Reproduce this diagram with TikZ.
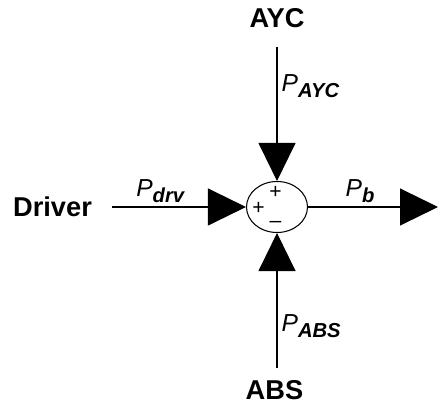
\documentclass[tikz,border=0pt]{standalone}
\usepackage{fontspec}
\setmainfont{Liberation Sans}
\usetikzlibrary{arrows.meta,shapes.geometric}
\newcommand{\pvar}[1]{\textit{P}\raisebox{-0.45ex}{\fontsize{11.5}{12}\selectfont\bfseries\itshape #1}}

\begin{document}
\begin{tikzpicture}[>={Triangle[length=7.6mm, width=7.4mm]}, line width=0.6pt,
    font=\fontsize{14}{16}\selectfont,
    src/.style={font=\fontsize{15.5}{17}\selectfont\bfseries},
    sgn/.style={font=\fontsize{12}{12}\selectfont, inner sep=0pt},
    sum/.style={draw, ellipse, minimum width=12.2mm, minimum height=10.2mm, inner sep=0pt}]
  \useasboundingbox (-5.54,-3.98) rectangle (3.22,4.14);
  \node[sum] (s) at (0,0) {};
  \node[src] (ayc) at (0,3.78) {AYC};
  \node[src] (drv) at (-4.49,0) {Driver};
  \node[src] (abs) at (-0.05,-3.66) {ABS};
  \coordinate (ayc0) at (0,3.2);
  \coordinate (drv0) at (-3.3,0);
  \coordinate (abs0) at (0,-3.22);
  \coordinate (out) at (3.22,0);
  \node[sgn] (p1) at (-0.03,0.3) {+};
  \node[sgn] (p2) at (-0.37,-0.02) {+};
  \node[sgn] (m1) at (-0.03,-0.35) {--};
  \draw[->] (ayc0) -- node[pos=0.29, right=-1pt] {\pvar{AYC}} (s.north);
  \draw[->] (drv0) -- node[pos=0.36, above=-1pt] {\pvar{drv}} (s.west);
  \draw[->] (abs0) -- node[pos=0.31, right=-1pt] {\pvar{ABS}} (s.south);
  \draw[->] (s.east) -- node[pos=0.4, above=-1pt] {\pvar{b}} (out);
\end{tikzpicture}
\end{document}
